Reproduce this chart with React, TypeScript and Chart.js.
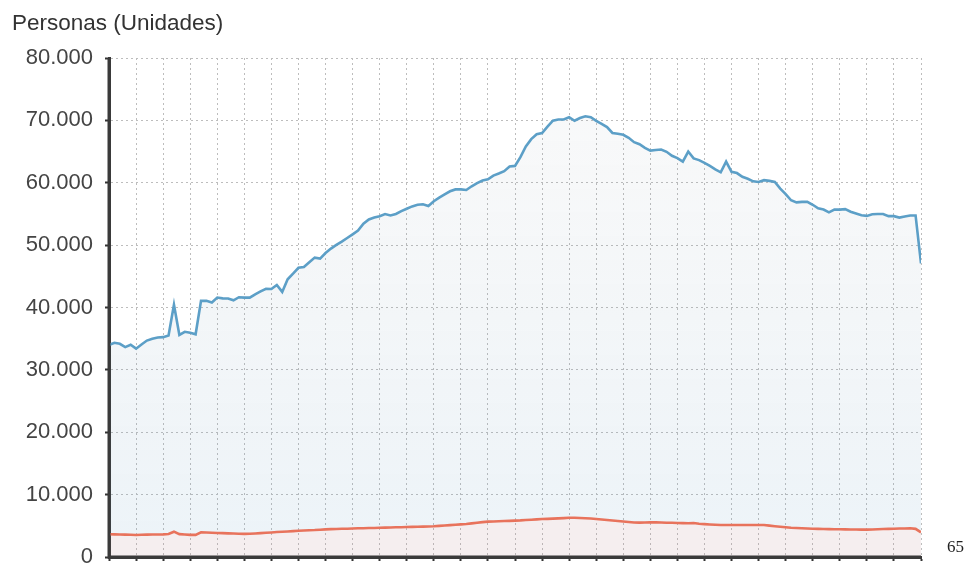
import React, { useEffect, useRef } from "react";
import { Chart, registerables } from "chart.js";

Chart.register(...registerables);

const yTitle = "Personas (Unidades)";
const pageNumber = "65";
const yTicks = [0, 10000, 20000, 30000, 40000, 50000, 60000, 70000, 80000];

const totalSeries = [
  34000, 34350, 34180, 33650, 34030, 33400, 34080, 34700, 35000, 35200,
  35250, 35500, 40450, 35600, 36100, 35950, 35700, 41070, 41070, 40810,
  41590, 41460, 41450, 41150, 41650, 41580, 41590, 42120, 42570, 43000,
  42960, 43600, 42500, 44530, 45430, 46370, 46500, 47240, 48000, 47840,
  48730, 49440, 50030, 50560, 51140, 51720, 52320, 53440, 54120, 54440,
  54640, 54980, 54750, 55000, 55440, 55840, 56210, 56460, 56560, 56260,
  57040, 57620, 58130, 58630, 58930, 58930, 58840, 59440, 59930, 60360,
  60550, 61150, 61480, 61850, 62600, 62700, 64100, 65830, 66990, 67770,
  67960, 69000, 69960, 70140, 70130, 70500, 69940, 70370, 70650, 70510,
  69910, 69430, 68920, 67980, 67850, 67690, 67200, 66510, 66170, 65590,
  65150, 65240, 65320, 64960, 64320, 63940, 63400, 65000, 63900, 63630,
  63200, 62700, 62150, 61680, 63400, 61750, 61550, 60960, 60640, 60230,
  60120, 60410, 60300, 60120, 59060, 58190, 57190, 56850, 56940, 56940,
  56470, 55900, 55700, 55250, 55690, 55690, 55760, 55350, 55060, 54780,
  54690, 54950, 54980, 55000, 54650, 54650, 54420, 54600, 54760, 54760,
  47070,
];

const secondSeries = [
  3650, 3630, 3600, 3580, 3560, 3530, 3560, 3580, 3600, 3610,
  3630, 3700, 4060, 3660, 3600, 3550, 3540, 3940, 3920, 3880,
  3850, 3820, 3790, 3760, 3730, 3700, 3720, 3780, 3830, 3880,
  3940, 4000, 4050, 4100, 4150, 4200, 4240, 4280, 4320, 4380,
  4430, 4470, 4500, 4520, 4540, 4580, 4600, 4620, 4640, 4660,
  4690, 4710, 4730, 4760, 4780, 4800, 4830, 4850, 4870, 4900,
  4930, 4990, 5050, 5110, 5170, 5230, 5290, 5390, 5490, 5590,
  5670, 5700, 5730, 5760, 5790, 5830, 5870, 5930, 5980, 6030,
  6080, 6120, 6160, 6200, 6240, 6290, 6290, 6250, 6210, 6160,
  6100, 6020, 5940, 5860, 5780, 5700, 5620, 5540, 5510, 5530,
  5550, 5550, 5530, 5500, 5480, 5460, 5430, 5400, 5450, 5330,
  5270, 5220, 5180, 5140, 5130, 5130, 5130, 5130, 5130, 5130,
  5130, 5120, 5030, 4940, 4860, 4770, 4690, 4650, 4610, 4570,
  4540, 4510, 4490, 4470, 4460, 4440, 4430, 4410, 4400, 4390,
  4390, 4420, 4450, 4480, 4510, 4530, 4560, 4580, 4600, 4510,
  3950,
];

const periods = totalSeries.map((_, i) => i);

const fmt = (v: number) =>
  String(v).replace(/\B(?=(\d{3})+(?!\d))/g, ".");

const axisOnTop = {
  id: "axisOnTop",
  afterDatasetsDraw(chart: any) {
    const { ctx, chartArea: a } = chart;
    ctx.save();
    ctx.strokeStyle = "#3a3a3a";
    ctx.lineWidth = 3;
    ctx.beginPath();
    ctx.moveTo(a.left, a.top);
    ctx.lineTo(a.left, a.bottom);
    ctx.lineTo(a.right, a.bottom);
    ctx.stroke();
    ctx.restore();
  },
};

export default function App() {
  const ref = useRef<HTMLCanvasElement | null>(null);

  useEffect(() => {
    if (!ref.current) return;
    const gradientFill = (top: string, bottom: string) => (ctx: any) => {
      const chart = ctx.chart;
      const area = chart.chartArea;
      if (!area) return bottom;
      const g = chart.ctx.createLinearGradient(0, area.top, 0, area.bottom);
      g.addColorStop(0, top);
      g.addColorStop(1, bottom);
      return g;
    };
    const font = "'Liberation Sans', Arial, sans-serif";
    const chart = new Chart(ref.current, {
      type: "line",
      plugins: [axisOnTop],
      data: {
        labels: periods,
        datasets: [
          {
            label: "Total",
            data: totalSeries,
            order: 2,
            borderColor: "#5c9fc7",
            borderWidth: 2.6,
            pointRadius: 0,
            tension: 0,
            fill: "+1",
            backgroundColor: gradientFill("rgba(120,130,140,0.04)", "rgba(100,160,200,0.12)"),
          },
          {
            label: "Serie 2",
            data: secondSeries,
            order: 1,
            borderColor: "#e8735c",
            borderWidth: 2.6,
            pointRadius: 0,
            tension: 0,
            fill: "origin",
            backgroundColor: "rgba(190,140,150,0.15)",
          },
        ],
      },
      options: {
        animation: false,
        responsive: false,
        maintainAspectRatio: false,
        layout: { padding: { left: 12, right: 45, top: 0, bottom: 0 } },
        plugins: {
          legend: { display: false },
          tooltip: { enabled: false },
          title: {
            display: true,
            text: yTitle,
            align: "start",
            color: "#333",
            font: { family: font, size: 22.5, weight: "normal" },
            padding: { top: 10, bottom: 21 },
          },
        },
        scales: {
          x: {
            type: "linear",
            min: 0,
            max: periods.length - 1,
            ticks: { display: false, stepSize: 5 },
            grid: {
              color: "#bdbdbd",
              lineWidth: 1,
              tickColor: "#333",
              tickLength: 4,
              tickWidth: 2,
            },
            border: { display: true, color: "#3a3a3a", width: 3, dash: [2, 3] },
            afterFit: (s: any) => {
              s.height = 8;
              s.paddingLeft = 0;
              s.paddingRight = 0;
            },
          },
          y: {
            min: 0,
            max: 80000,
            afterBuildTicks: (s: any) => {
              s.ticks = yTicks.map((v) => ({ value: v }));
            },
            ticks: {
              color: "#444",
              padding: 12,
              font: { family: font, size: 22 },
              callback: (v: any) => fmt(Number(v)),
            },
            grid: {
              color: "#bdbdbd",
              lineWidth: 1,
              tickColor: "#333",
              tickLength: 4,
              tickWidth: 2,
            },
            border: { display: true, color: "#3a3a3a", width: 3, dash: [2, 3] },
            afterFit: (s: any) => {
              s.width = 97;
              s.paddingTop = 0;
              s.paddingBottom = 0;
            },
          },
        },
      },
    });
    return () => chart.destroy();
  }, []);

  return (
    <div style={{ position: "absolute", left: 0, top: 0, width: 966, height: 565, background: "#fff" }}>
      <canvas ref={ref} width={966} height={565} style={{ display: "block" }} />
      <span
        style={{
          position: "absolute",
          left: 947,
          top: 537,
          fontFamily: "'Liberation Serif', 'Times New Roman', serif",
          fontSize: 17,
          color: "#222",
        }}
      >
        {pageNumber}
      </span>
    </div>
  );
}
